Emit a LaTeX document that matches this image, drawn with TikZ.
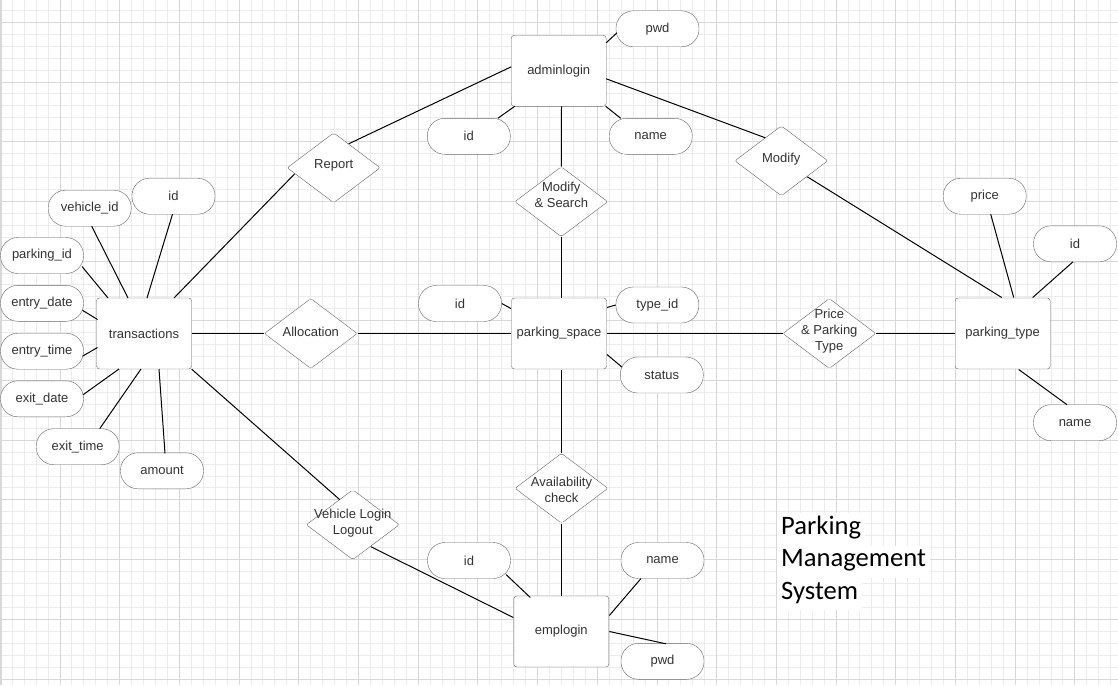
\documentclass[tikz,border=0pt]{standalone}
\usepackage{fontspec}
\setmainfont{Liberation Sans}
\newfontfamily\titlefont{Carlito}
\usetikzlibrary{shapes.geometric,calc}
\definecolor{txt}{HTML}{333333}
\definecolor{edgec}{HTML}{666666}
\definecolor{gminor}{HTML}{ECECEC}
\definecolor{gmajor}{HTML}{D8D8D8}
\begin{document}
\begin{tikzpicture}[x=1pt,y=-1pt,
  lbl/.style={font=\fontsize{13}{16}\selectfont, text=txt, align=center},
  entity/.style={lbl, draw=edgec, fill=white, rounded corners=3pt, minimum width=95pt, minimum height=71pt, inner sep=0pt},
  attr/.style={lbl, draw=edgec, fill=white, rounded corners=17.5pt, minimum width=83pt, minimum height=36pt, inner sep=0pt},
  rel/.style={diamond, draw=edgec, fill=white, rounded corners=2pt, minimum width=93pt, minimum height=70pt, inner sep=0pt},
  conn/.style={draw=black, line width=1pt},
  gridminor/.style={draw=gminor, line width=1pt},
  gridmajor/.style={draw=gmajor, line width=1pt},
  ttl/.style={font=\titlefont\fontsize{26.6}{32}\selectfont, fill=white, text=black, inner xsep=4pt, inner ysep=0pt, text height=21pt, text depth=11.4pt}]
\useasboundingbox (0,0) rectangle (1118,685);
\begin{scope}
\clip (0,0) rectangle (1118,685);
\fill[white] (0,0) rectangle (1118,685);
\foreach \i in {0,...,94} \draw[gridminor] ({0.3+\i*11.94},0) -- ({0.3+\i*11.94},685);
\foreach \j in {-2,...,57} \draw[gridminor] (0,{22.3+\j*11.94}) -- (1118,{22.3+\j*11.94});
\foreach \i in {0,...,18} \draw[gridmajor] ({0.3+\i*59.7},0) -- ({0.3+\i*59.7},685);
\foreach \j in {0,...,11} \draw[gridmajor] (0,{22.3+\j*59.7}) -- (1118,{22.3+\j*59.7});
\fill[gmajor] (0,0) rectangle (1.6,685);
\end{scope}

% entities
\node[entity] (AD) at (558.7,70.8) {adminlogin};
\node[entity] (T) at (144,333.5) {transactions};
\node[entity] (S) at (559,333.5) {parking\_space};
\node[entity] (PT) at (1002.7,333.5) {parking\_type};
\node[entity] (E) at (561.3,631.5) {emplogin};

% attributes
\node[attr] (APW) at (657.5,28.8) {pwd};
\node[attr] (AID) at (468.8,136.3) {id};
\node[attr] (ANM) at (650.7,136.3) {name};
\node[attr] (TID) at (173.5,196.2) {id};
\node[attr] (TVID) at (89.7,208.2) {vehicle\_id};
\node[attr] (TPID) at (42,255.5) {parking\_id};
\node[attr] (TED) at (42,303.3) {entry\_date};
\node[attr] (TET) at (42,351.2) {entry\_time};
\node[attr] (TXD) at (42,398.8) {exit\_date};
\node[attr] (TXT) at (77.7,446.7) {exit\_time};
\node[attr] (TAM) at (162,470.8) {amount};
\node[attr] (SID) at (460,303.5) {id};
\node[attr] (STI) at (657.4,305) {type\_id};
\node[attr] (SST) at (661.8,375) {status};
\node[attr] (PPR) at (984.7,196.2) {price};
\node[attr] (PID) at (1075,243.8) {id};
\node[attr] (PNM) at (1075,422.7) {name};
\node[attr] (EID) at (469,560.5) {id};
\node[attr] (ENM) at (662.5,560.5) {name};
\node[attr] (EPW) at (662.5,661.3) {pwd};

% relationships
\node[rel] (R) at (333.7,167.8) {};
\node[rel] (MS) at (561.3,201.7) {};
\node[rel] (M) at (781.3,160.8) {};
\node[rel] (AL) at (310.8,333.5) {};
\node[rel] (PP) at (829.3,333.5) {};
\node[rel] (AV) at (561.5,488.3) {};
\node[rel] (VL) at (352.8,524.7) {};

% connectors: transactions
\draw[conn] ($(TPID)+(40,11)$) -- ($(T)+(-36,-35.5)$);
\draw[conn] ($(TVID)+(2,18)$) -- ($(T)+(-16,-35.5)$);
\draw[conn] ($(TID)+(-1,18)$) -- ($(T)+(3,-35.5)$);
\draw[conn] ($(TED)+(40.5,7)$) -- ($(T)+(-46.5,-14)$);
\draw[conn] ($(TET)+(40.5,5)$) -- ($(T)+(-46.5,14)$);
\draw[conn] ($(TXD)+(41,-4)$) -- ($(T)+(-25,35.5)$);
\draw[conn] ($(TXT)+(22,-18)$) -- ($(T)+(-3,35.5)$);
\draw[conn] ($(TAM)+(3,-17.5)$) -- ($(T)+(15,35.5)$);
\draw[conn] ($(T)+(30,-35.5)$) -- ($(R)+(-39,6)$);
\draw[conn] (T.east) -- (AL.west);
\draw[conn] (AL.east) -- (S.west);
\draw[conn] (T.south east) -- ($(VL)+(-13,-25)$);
\draw[conn] ($(VL)+(18,22)$) -- ($(E)+(-48,-14)$);
% adminlogin
\draw[conn] ($(AD)+(47.5,-28)$) -- ($(APW)+(-40.5,4)$);
\draw[conn] ($(AID)+(29,-18)$) -- ($(AD)+(-44,35.5)$);
\draw[conn] ($(ANM)+(-30,-18)$) -- ($(AD)+(47,35.5)$);
\draw[conn] ($(AD)+(2.8,35.5)$) -- (MS.north);
\draw[conn] (MS.south) -- ($(S)+(2.3,-36)$);
\draw[conn] ($(R)+(15,-24)$) -- ($(AD)+(-47.5,-4)$);
\draw[conn] ($(AD)+(47.5,8)$) -- ($(M)+(-16,-23)$);
\draw[conn] ($(M)+(26,16)$) -- ($(PT)+(-1,-36)$);
% parking_type
\draw[conn] ($(PPR)+(6,18)$) -- ($(PT)+(11,-36)$);
\draw[conn] ($(PID)+(-2,18)$) -- ($(PT)+(30,-36)$);
\draw[conn] ($(PNM)+(-8,-18)$) -- ($(PT)+(16,36)$);
\draw[conn] (S.east) -- (PP.west);
\draw[conn] (PP.east) -- (PT.west);
% parking_space
\draw[conn] (SID.east) -- ($(S)+(-48,-25)$);
\draw[conn] ($(S)+(48,-26)$) -- (STI.west);
\draw[conn] ($(S)+(48,21)$) -- ($(SST)+(-40,-8)$);
\draw[conn] ($(S)+(2.5,36)$) -- (AV.north);
\draw[conn] (AV.south) -- (AV.south |- E.north);
% emplogin
\draw[conn] ($(EID)+(37,14)$) -- ($(E)+(-31,-34)$);
\draw[conn] ($(ENM)+(-21.5,18)$) -- ($(E)+(48,-16)$);
\draw[conn] ($(E)+(48,0)$) -- ($(EPW)+(3.5,-17.5)$);

% relationship labels
\node[lbl] (Rt) at ($(R)+(0,-2.5)$) {Report};
\node[lbl] (MSt) at ($(MS)+(0,-7)$) {Modify\\\& Search};
\node[lbl] (Mt) at ($(M)+(0,-1.5)$) {Modify};
\node[lbl] (ALt) at ($(AL)+(0,-1.5)$) {Allocation};
\node[lbl] (PPt) at ($(PP)+(0,-2)$) {Price\\\& Parking\\Type};
\node[lbl] (AVt) at ($(AV)+(0,2)$) {Availability\\check};
\node[lbl] (VLt) at ($(VL)+(0,-1.5)$) {Vehicle Login\\Logout};

% title
\node[ttl, anchor=base west] (t1) at (777,534.3) {Parking};
\node[ttl, anchor=base west] (t2) at (777,566.7) {Management};
\node[ttl, anchor=base west] (t3) at (777,599) {System};
\end{tikzpicture}
\end{document}
